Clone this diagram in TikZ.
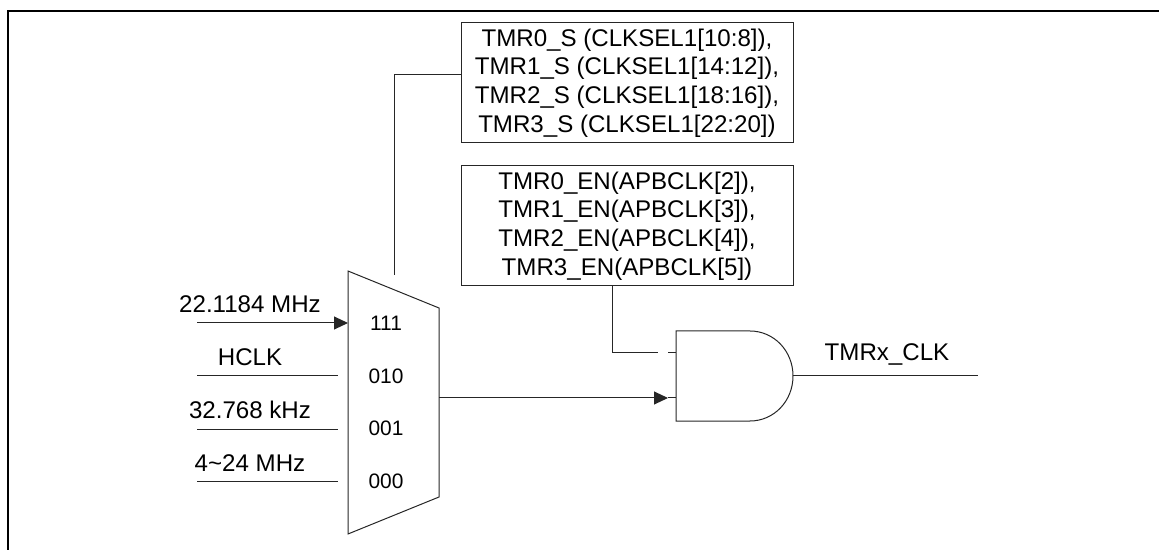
\documentclass[tikz,border=0pt]{standalone}
\usepackage{fontspec}
\setmainfont{Liberation Sans}
\usetikzlibrary{arrows.meta}
\tikzset{
  wire/.style={draw=black!85, line width=1bp},
  arrowwire/.style={wire, -{Triangle[length=14bp,width=13bp]}},
  regbox/.style={draw=black!85, line width=1bp, rectangle, inner sep=0pt, align=center, font=\fontsize{24.2}{28.7}\selectfont},
  lab/.style={inner sep=0pt, font=\fontsize{24.2}{28}\selectfont, anchor=base},
  sel/.style={inner sep=0pt, font=\fontsize{21}{26}\selectfont},
}
\begin{document}
\begin{tikzpicture}[x=1bp,y=-1bp]
\useasboundingbox (0,0) rectangle (1159,550);
\draw[line width=1.3bp] (8,550) -- (8,11) -- (1159,11);
% mux
\draw[wire] (348,271) coordinate (mtl) -- (439,308) coordinate (mtr) -- (439,497) coordinate (mbr) -- (348,534) coordinate (mbl) -- cycle;
\node[sel] (s3) at (386,323) {111};
\node[sel] (s2) at (386,376) {010};
\node[sel] (s1) at (386,428) {001};
\node[sel] (s0) at (386,481) {000};
% inputs
\coordinate (i3a) at (197,323); \coordinate (i3b) at (348,323);
\coordinate (i2a) at (197,376); \coordinate (i2b) at (338,376);
\coordinate (i1a) at (197,429); \coordinate (i1b) at (338,429);
\coordinate (i0a) at (197,481); \coordinate (i0b) at (338,481);
\draw[arrowwire] (i3a) -- (i3b);
\draw[wire] (i2a) -- (i2b);
\draw[wire] (i1a) -- (i1b);
\draw[wire] (i0a) -- (i0b);
\node[lab] (l3) at (250,313) {22.1184 MHz};
\node[lab] (l2) at (250,366) {HCLK};
\node[lab] (l1) at (250,418) {32.768 kHz};
\node[lab] (l0) at (250,471) {4\textasciitilde 24 MHz};
% boxes
\node[regbox, minimum width=332bp, minimum height=120bp] (clksel) at (627,83) {TMR0\_S (CLKSEL1[10:8]),\\TMR1\_S (CLKSEL1[14:12]),\\TMR2\_S (CLKSEL1[18:16]),\\TMR3\_S (CLKSEL1[22:20])};
\node[regbox, minimum width=332bp, minimum height=120bp] (apb) at (627,226) {TMR0\_EN(APBCLK[2]),\\TMR1\_EN(APBCLK[3]),\\TMR2\_EN(APBCLK[4]),\\TMR3\_EN(APBCLK[5])};
\coordinate (selstart) at (461,75);
\coordinate (selend) at (394,275);
\draw[wire] (selstart) -| (selend);
% AND gate
\draw[wire] (676,331) coordinate (gtl) -- (750,331) .. controls (774,331) and (793,351) .. (793,376) coordinate (gout) .. controls (793,401) and (774,421) .. (750,421) -- (676,421) coordinate (gbl) -- cycle;
\coordinate (outend) at (978,376);
\draw[wire] (gout) -- (outend);
\node[lab] (tmrx) at (887,361) {TMRx\_CLK};
% enable
\coordinate (ena) at (658,353); \coordinate (enb) at (668,353); \coordinate (enc) at (676,353);
\coordinate (ent) at (612,286);
\draw[wire] (ent) -- (612,353) -- (ena);
\draw[wire] (enb) -- (enc);
% mux output
\coordinate (mo) at (439,398); \coordinate (gi) at (676,398); \coordinate (gt) at (668,398);
\draw[arrowwire] (mo) -- (gt);
\draw[wire] (gt) -- (gi);
\end{tikzpicture}
\end{document}
